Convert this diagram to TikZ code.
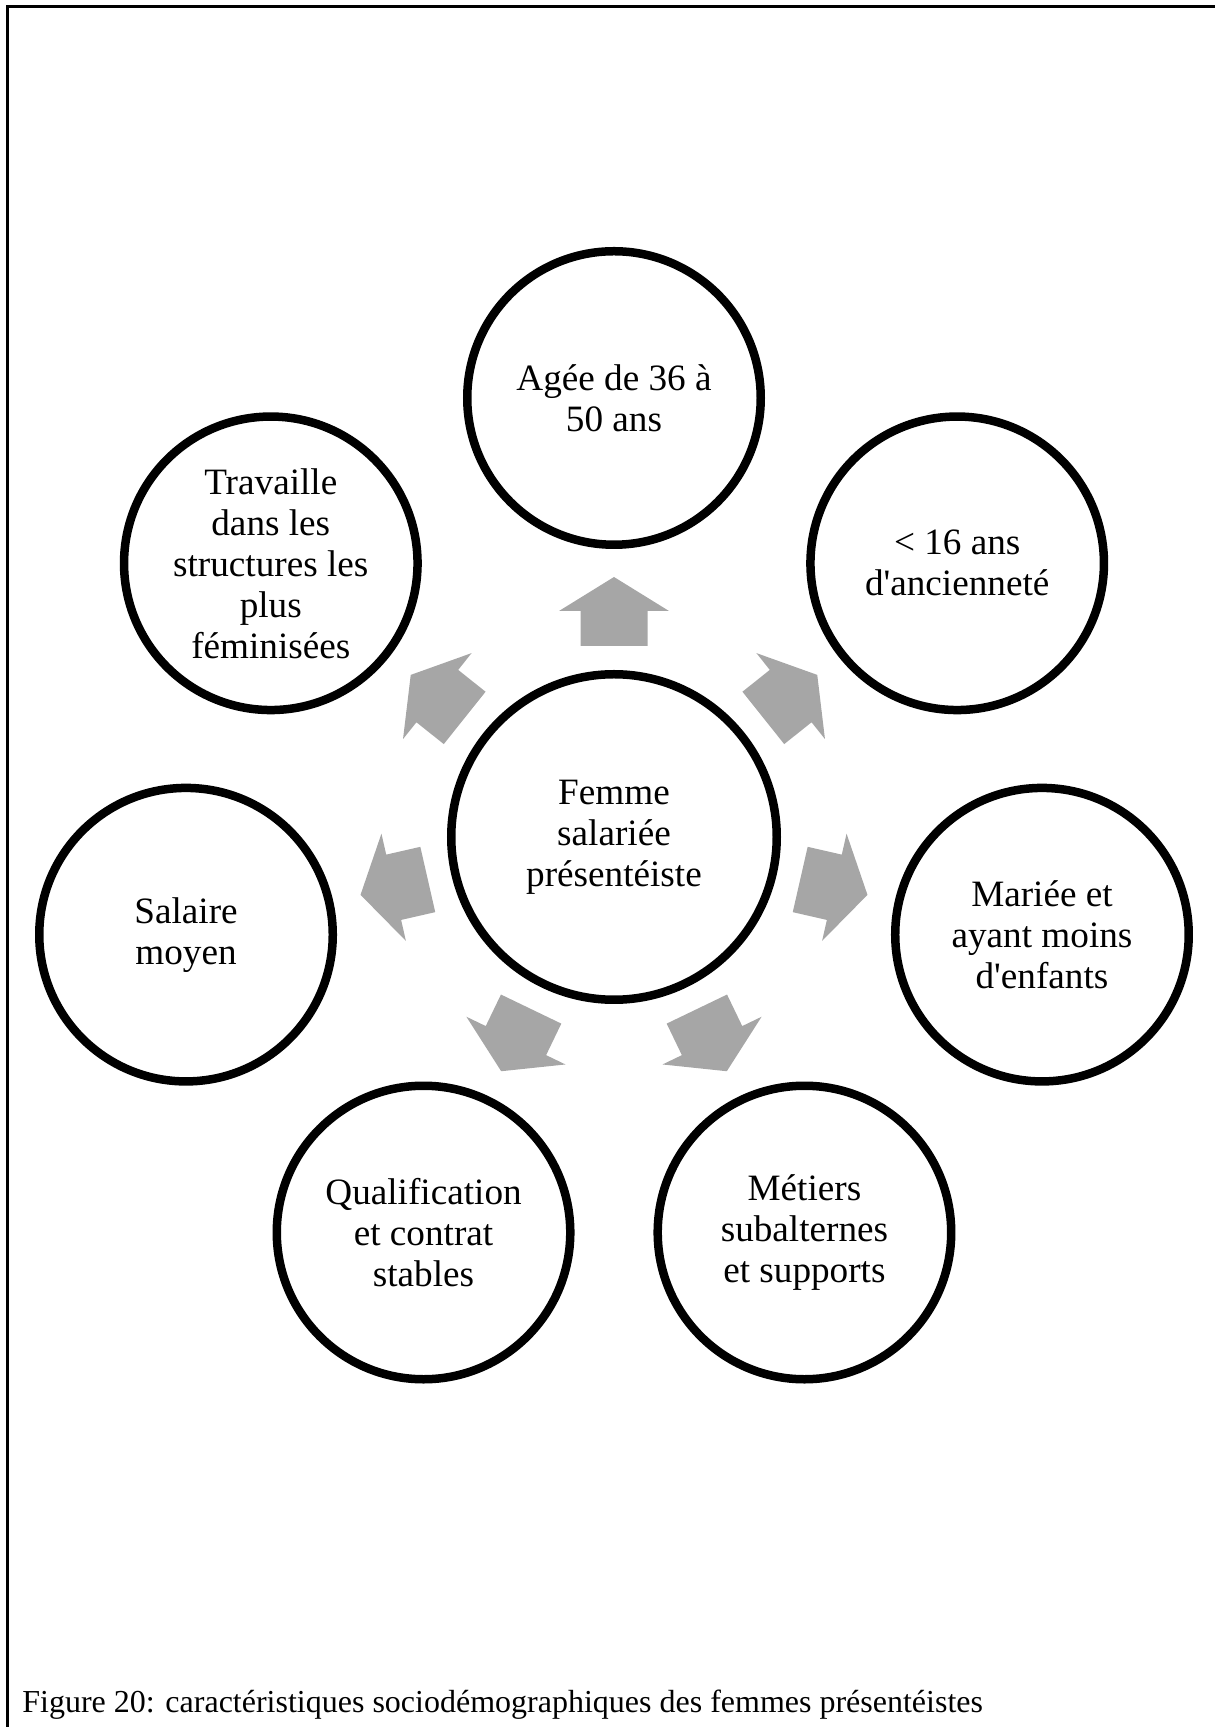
\documentclass[tikz,border=0pt]{standalone}
\usepackage{fontspec}
\setmainfont{Liberation Serif}
\definecolor{grisfleche}{RGB}{166,166,166}
\tikzset{
  bulle/.style={circle, draw, line width=4.25pt, minimum size=146.75pt, inner sep=0pt,
    align=center, font=\fontsize{18.6}{20.5}\selectfont},
  fleche/.style={fill=grisfleche},
}
\begin{document}
\begin{tikzpicture}[x=0.5pt, y=0.5pt, line join=miter]
	\def\R{439} % rayon du cercle des bulles
	\useasboundingbox (-614,-890) rectangle (601,837);
	\draw[line width=1.5pt] (-606,-890)--(-606,830)--(601,830); % cadre
	\node[bulle, minimum size=162.75pt] (centre) at (0,0) {Femme\\salariée\\présentéiste};
	\foreach \ang/\nom/\txt in {90/age/{Agée de 36 à\\50 ans},
		38.571/anciennete/{< 16 ans\\d\textquotesingle ancienneté},
		-12.857/mariee/{Mariée et\\ayant moins\\d\textquotesingle enfants},
		-64.286/metiers/{Métiers\\subalternes\\et supports},
		-115.714/qualif/{Qualification\\et contrat\\stables},
		192.857/salaire/{Salaire\\moyen},
		141.429/structures/{Travaille\\dans les\\structures les\\plus\\féminisées}}{
		\node[bulle] (\nom) at (\ang:\R) {\txt};
		\fill[fleche, rotate=\ang] (191,-33.5)--(226,-33.5)--(226,-55)--(260,0)--(226,55)--(226,33.5)--(191,33.5)--cycle;
	}
	\node[anchor=base west, inner sep=0pt, font=\fontsize{16}{18}\selectfont] (legende) at (-592,-875)
		{Figure 20: caractéristiques sociodémographiques des femmes présentéistes};
\end{tikzpicture}
\end{document}
